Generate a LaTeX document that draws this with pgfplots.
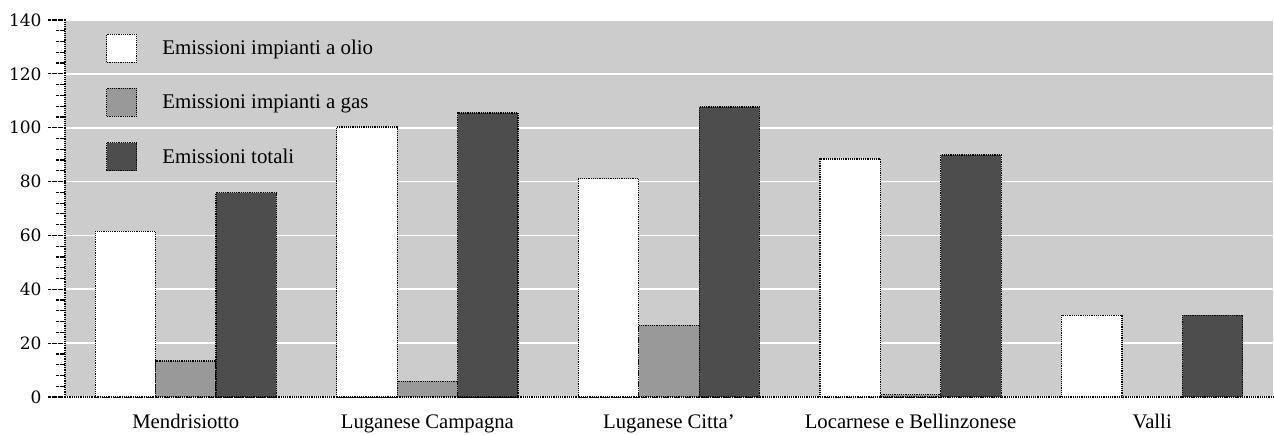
\documentclass[border=0pt]{standalone}
\usepackage{pgfplots}
\pgfplotsset{compat=1.18}
\usepackage{fontspec}
\setmainfont{Liberation Serif}
\newfontfamily\numfont{DejaVu Serif}
\definecolor{gasgray}{HTML}{999999}
\definecolor{totgray}{HTML}{4D4D4D}
\definecolor{bggray}{HTML}{CCCCCC}
\begin{document}
\begin{tikzpicture}
\begin{axis}[
 at={(0pt,0pt)}, anchor=south west,
 scale only axis, width=1208pt, height=377pt,
 xmin=-0.5, xmax=4.5, ymin=0, ymax=140,
 axis x line=bottom, axis y line=left,
 axis line style={-, black, densely dotted, line width=1.2pt},
 axis background/.style={fill=bggray},
 ytick={0,20,...,140}, minor y tick num=4,
 ymajorgrids, major grid style={white, solid, line width=1.6pt},
 tick align=outside,
 major tick length=17pt, minor tick length=9pt,
 ytick style={black, densely dotted, line width=1.2pt},
 xtick={0,1,2,3,4},
 xticklabels={Mendrisiotto, Luganese Campagna, {Luganese Citta'}, Locarnese e Bellinzonese, Valli},
 xtick style={draw=none},
 /pgf/number format/assume math mode=true,
 xticklabel style={font=\fontsize{20.7}{24}\selectfont, yshift=3pt},
 yticklabel style={font=\numfont\fontsize{17}{20}\selectfont, xshift=-3pt},
 legend style={at={(0,1)}, anchor=north west, xshift=38pt, yshift=-11.5pt, draw=none, fill=none,
   font=\fontsize{20.9}{24}\selectfont, row sep=25pt, column sep=23pt},
 legend cell align=left,
 clip=false,
]
\addplot[ybar, bar width=0.25, bar shift=-0.25, fill=white, draw=black, densely dotted, line width=1.2pt,
 legend image code/.code={\draw[fill=white, draw=black, densely dotted, line width=1.2pt] (0pt,-14pt) rectangle (30pt,14pt);}]
 coordinates {(0,61.6) (1,100.3) (2,81.0) (3,88.4) (4,30.4)};
\addlegendentry{Emissioni impianti a olio}
\addplot[ybar, bar width=0.25, bar shift=0, fill=gasgray, draw=black, densely dotted, line width=1.2pt,
 legend image code/.code={\draw[fill=gasgray, draw=black, densely dotted, line width=1.2pt] (0pt,-14pt) rectangle (30pt,14pt);}]
 coordinates {(0,13.4) (1,5.9) (2,26.7) (3,0.8)};
\addlegendentry{Emissioni impianti a gas}
\addplot[ybar, bar width=0.25, bar shift=0.25, fill=totgray, draw=black, densely dotted, line width=1.2pt,
 legend image code/.code={\draw[fill=totgray, draw=black, densely dotted, line width=1.2pt] (0pt,-14pt) rectangle (30pt,14pt);}]
 coordinates {(0,75.8) (1,105.5) (2,107.7) (3,89.9) (4,30.4)};
\addlegendentry{Emissioni totali}
\end{axis}
\pgfresetboundingbox
\useasboundingbox (-65pt,-37pt) rectangle (1209pt,397pt);
\end{tikzpicture}
\end{document}
